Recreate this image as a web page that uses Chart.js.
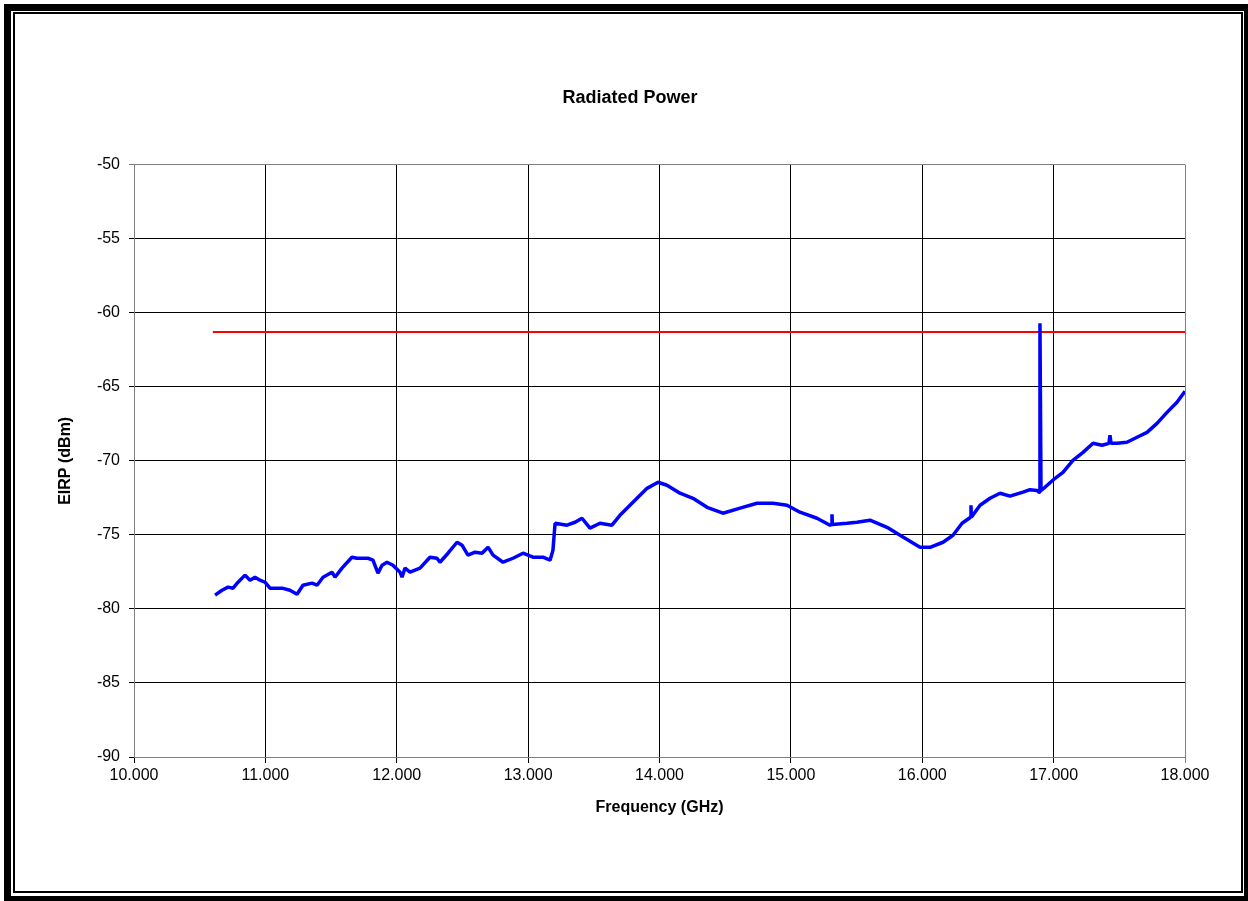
<!DOCTYPE html>
<html>
<head>
<meta charset="utf-8">
<title>Radiated Power</title>
<script src="https://cdn.jsdelivr.net/npm/chart.js@4"></script>
<style>
    html, body { margin: 0; padding: 0; background: #fff; }
    #wrap { position: relative; width: 1248px; height: 901px; overflow: hidden; }
    #chart { position: absolute; left: 0; top: 0; }
    .outer { position: absolute; left: 4px; top: 4px; width: 1244px; height: 897px; box-sizing: border-box;
             border-style: solid; border-color: #000; border-width: 7px 4px 5px 7px; pointer-events: none; }
    .inner { position: absolute; left: 13px; top: 12px; width: 1230px; height: 881px; box-sizing: border-box;
             border: 2px solid #000; pointer-events: none; }
</style>
</head>
<body>
<div id="wrap">
    <canvas id="chart" width="1248" height="901"></canvas>
    <div class="outer"></div>
    <div class="inner"></div>
</div>
<script>
const freqGHz = [
    10.617, 10.670, 10.716, 10.754, 10.792, 10.845, 10.883, 10.921, 10.959, 10.997,
    11.035, 11.073, 11.127, 11.187, 11.241, 11.286, 11.355, 11.393, 11.439, 11.507,
    11.530, 11.583, 11.659, 11.697, 11.736, 11.781, 11.819, 11.857, 11.888, 11.926,
    11.971, 12.025, 12.040, 12.063, 12.101, 12.177, 12.253, 12.306, 12.329, 12.390,
    12.459, 12.497, 12.542, 12.596, 12.649, 12.695, 12.733, 12.809, 12.885, 12.961,
    13.037, 13.113, 13.167, 13.189, 13.205, 13.296, 13.357, 13.410, 13.471, 13.547,
    13.638, 13.699, 13.798, 13.905, 13.989, 14.057, 14.156, 14.255, 14.362, 14.483,
    14.613, 14.742, 14.864, 14.971, 15.069, 15.199, 15.298, 15.310, 15.313, 15.316,
    15.427, 15.503, 15.602, 15.732, 15.831, 15.983, 16.059, 16.158, 16.234, 16.303,
    16.368, 16.371, 16.374, 16.440, 16.516, 16.592, 16.668, 16.767, 16.820, 16.873,
    16.889, 16.896, 16.904, 16.934, 17.011, 17.071, 17.147, 17.224, 17.300, 17.368,
    17.421, 17.429, 17.437, 17.482, 17.558, 17.635, 17.711, 17.787, 17.863, 17.939,
    18.000
];
const eirpDbm = [
    -79.07, -78.74, -78.53, -78.60, -78.20, -77.72, -78.06, -77.86, -78.06, -78.20,
    -78.60, -78.60, -78.60, -78.74, -79.01, -78.40, -78.26, -78.40, -77.86, -77.52,
    -77.86, -77.25, -76.51, -76.58, -76.58, -76.58, -76.71, -77.59, -77.05, -76.85,
    -77.05, -77.52, -77.86, -77.25, -77.52, -77.25, -76.51, -76.58, -76.85, -76.24,
    -75.50, -75.70, -76.37, -76.17, -76.24, -75.83, -76.37, -76.85, -76.58, -76.24,
    -76.51, -76.51, -76.71, -76.04, -74.22, -74.35, -74.15, -73.88, -74.55, -74.22,
    -74.35, -73.68, -72.80, -71.86, -71.45, -71.65, -72.19, -72.53, -73.14, -73.54,
    -73.20, -72.87, -72.87, -73.00, -73.47, -73.88, -74.35, -74.30, -73.61, -74.30,
    -74.22, -74.15, -74.01, -74.49, -75.03, -75.84, -75.84, -75.50, -75.03, -74.22,
    -73.81, -73.00, -73.81, -73.00, -72.53, -72.19, -72.39, -72.12, -71.95, -72.00,
    -72.12, -60.72, -72.00, -71.79, -71.18, -70.78, -69.97, -69.43, -68.82, -68.95,
    -68.82, -68.28, -68.82, -68.82, -68.75, -68.41, -68.08, -67.47, -66.73, -66.05,
    -65.30
];

// Límite
const limitFreq = [10.6, 18.0];
const limitDbm = [-61.3, -61.3];

const xTicks = [10, 11, 12, 13, 14, 15, 16, 17, 18];
const yTicks = [-90, -85, -80, -75, -70, -65, -60, -55, -50];

const toPoints = (xs, ys) => xs.map((x, i) => ({ x: x, y: ys[i] }));

const fontFamily = '"Liberation Sans", Arial, sans-serif';

new Chart(document.getElementById('chart').getContext('2d'), {
    type: 'line',
    data: {
        datasets: [{
            label: 'EIRP',
            data: toPoints(freqGHz, eirpDbm),
            borderColor: '#0000ff',
            borderWidth: 3.5,
            borderJoinStyle: 'bevel',
            pointRadius: 0,
            tension: 0
        }, {
            label: 'Limit',
            data: toPoints(limitFreq, limitDbm),
            borderColor: '#ff0000',
            borderWidth: 2,
            pointRadius: 0,
            tension: 0
        }]
    },
    options: {
        responsive: false,
        animation: false,
        layout: { padding: { left: 75, right: 63, top: 0, bottom: 82 } },
        plugins: {
            legend: { display: false },
            tooltip: { enabled: false },
            title: {
                display: true,
                text: 'Radiated Power',
                color: '#000',
                font: { family: fontFamily, size: 18, weight: 'bold' },
                padding: { top: 87, bottom: 56 }
            }
        },
        scales: {
            x: {
                type: 'linear',
                min: xTicks[0],
                max: xTicks[xTicks.length - 1],
                afterBuildTicks: s => { s.ticks = xTicks.map(v => ({ value: v })); },
                afterFit: s => { s.height = 62; },
                ticks: {
                    color: '#000',
                    font: { family: fontFamily, size: 16 },
                    padding: 3,
                    maxRotation: 0,
                    callback: v => v.toFixed(3)
                },
                grid: {
                    color: ctx => (ctx.tick && ctx.tick.value === 18) ? '#808080' : '#000',
                    lineWidth: 1,
                    tickLength: 6
                },
                border: { color: '#808080', width: 1 },
                title: {
                    display: true,
                    text: 'Frequency (GHz)',
                    color: '#000',
                    font: { family: fontFamily, size: 16, weight: 'bold' },
                    padding: { top: 0, bottom: 2 }
                }
            },
            y: {
                min: yTicks[0],
                max: yTicks[yTicks.length - 1],
                afterBuildTicks: s => { s.ticks = yTicks.map(v => ({ value: v })); },
                afterFit: s => { s.width = 59; },
                ticks: {
                    color: '#000',
                    font: { family: fontFamily, size: 16 },
                    padding: 9
                },
                grid: {
                    color: ctx => (ctx.tick && ctx.tick.value === -50) ? '#808080' : '#000',
                    lineWidth: 1,
                    tickLength: 5
                },
                border: { color: '#808080', width: 1 },
                title: {
                    display: true,
                    text: 'EIRP (dBm)',
                    color: '#000',
                    font: { family: fontFamily, size: 16, weight: 'bold' },
                    padding: { top: -19, bottom: 0 }
                }
            }
        }
    }
});
</script>
</body>
</html>
